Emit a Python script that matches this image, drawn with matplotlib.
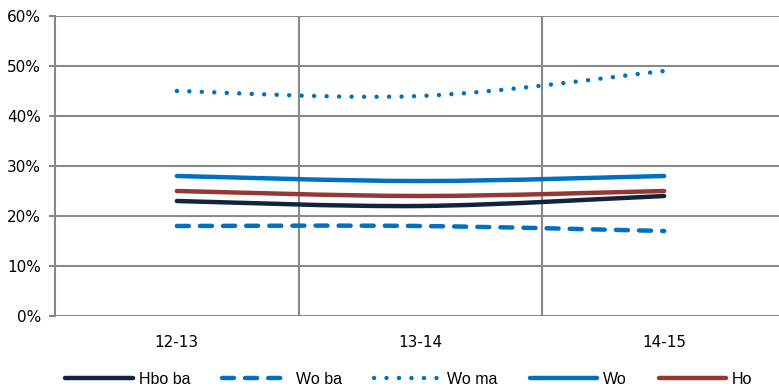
import matplotlib
matplotlib.use("Agg")
import matplotlib.pyplot as plt
from matplotlib.path import Path
from matplotlib.patches import PathPatch
from matplotlib.lines import Line2D
from matplotlib.ticker import FuncFormatter, MultipleLocator

# data
years = ["12-13", "13-14", "14-15"]
hbo_ba = [23, 22, 24]
wo_ba = [18, 18, 17]
wo_ma = [45, 44, 49]
wo = [28, 27, 28]
ho = [25, 24, 25]

NAVY = "#10243e"
BLUE = "#0070c0"
RED = "#953735"
GRID = "#898989"
LW = 3.2
DASH = (0, (2.7, 2.5))
DOT = (0, (0.01, 2.8))

W, H = 779, 386
fig = plt.figure(figsize=(W / 100, H / 100), dpi=100)
# plot area: left axis at x=55, top at 60% y=16, bottom at 0% y=316, right beyond the image
ax = fig.add_axes([55 / W, (H - 316) / H, (786 - 55) / W, 300 / H])


def smooth_path(xs, ys):
    # excel style smoothed line: catmull-rom segments as cubic bezier
    pts = list(zip(xs, ys))
    verts = [pts[0]]
    codes = [Path.MOVETO]
    n = len(pts)
    for i in range(n - 1):
        p0 = pts[i - 1] if i > 0 else pts[i]
        p1 = pts[i]
        p2 = pts[i + 1]
        p3 = pts[i + 2] if i + 2 < n else pts[i + 1]
        c1 = (p1[0] + (p2[0] - p0[0]) / 6, p1[1] + (p2[1] - p0[1]) / 6)
        c2 = (p2[0] - (p3[0] - p1[0]) / 6, p2[1] - (p3[1] - p1[1]) / 6)
        verts += [c1, c2, p2]
        codes += [Path.CURVE4] * 3
    return Path(verts, codes)


x = list(range(len(years)))
series = [
    ("Wo ba", wo_ba, BLUE, DASH),
    ("Wo ma", wo_ma, BLUE, DOT),
    ("Wo", wo, BLUE, "-"),
    ("Ho", ho, RED, "-"),
    ("Hbo ba", hbo_ba, NAVY, "-"),
]
for name, vals, col, ls in series:
    patch = PathPatch(smooth_path(x, vals), fill=False, edgecolor=col,
                      linewidth=LW, linestyle=ls, capstyle="round",
                      joinstyle="round", zorder=3)
    ax.add_patch(patch)

ax.set_xlim(-0.5, 2.5)
ax.set_ylim(0, 60)
ax.yaxis.set_major_locator(MultipleLocator(10))
ax.yaxis.set_major_formatter(FuncFormatter(lambda v, p: f"{v:.0f}%"))
ax.set_xticks(x)
ax.set_xticklabels(years, fontfamily="DejaVu Sans", fontsize=11)
ax.set_xticks([0.5, 1.5], minor=True)

ax.grid(axis="y", which="major", color=GRID, linewidth=1.5, zorder=0)
ax.grid(axis="x", which="minor", color=GRID, linewidth=1.5, zorder=0)
ax.set_axisbelow(True)

for s in ["top", "right", "bottom"]:
    ax.spines[s].set_visible(False)
ax.spines["left"].set_color(GRID)
ax.spines["left"].set_linewidth(1.5)

ax.tick_params(axis="y", length=4, width=1.5, color=GRID, pad=6, labelsize=11)
for lab in ax.get_yticklabels():
    lab.set_fontfamily("DejaVu Sans")
ax.tick_params(axis="x", which="both", length=0, pad=14)

# legend
order = [("Hbo ba", NAVY, "-"), ("Wo ba", BLUE, DASH),
         ("Wo ma", BLUE, DOT), ("Wo", BLUE, "-"), ("Ho", RED, "-")]
handles = [Line2D([], [], color=c, linewidth=LW, linestyle=ls,
                  solid_capstyle="round", dash_capstyle="round")
           for _, c, ls in order]
fig.legend(handles, [n for n, _, _ in order], loc="center",
           bbox_to_anchor=(409 / W, (H - 379) / H),
           ncol=5, frameon=False, handlelength=4.2, handletextpad=0.4,
           columnspacing=2.0, prop={"family": "Liberation Sans", "size": 11.5})

fig.savefig("out.png", dpi=100)
